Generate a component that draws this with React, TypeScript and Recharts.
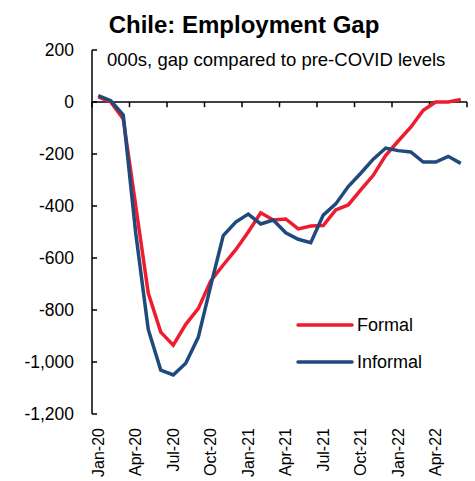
import { LineChart, Line, XAxis, YAxis, ReferenceLine } from 'recharts';

// ── Data ──────────────────────────────────────────────────────────────────────
const MONTHS = [
  'Jan-20', 'Feb-20', 'Mar-20', 'Apr-20', 'May-20', 'Jun-20',
  'Jul-20', 'Aug-20', 'Sep-20', 'Oct-20', 'Nov-20', 'Dec-20',
  'Jan-21', 'Feb-21', 'Mar-21', 'Apr-21', 'May-21', 'Jun-21',
  'Jul-21', 'Aug-21', 'Sep-21', 'Oct-21', 'Nov-21', 'Dec-21',
  'Jan-22', 'Feb-22', 'Mar-22', 'Apr-22', 'May-22', 'Jun-22',
];

// thousands of jobs vs pre-COVID
const FORMAL = [
  20, 0, -65, -400, -735, -885, -935, -855, -795, -688,
  -627, -568, -500, -426, -454, -450, -488, -477, -475, -415,
  -396, -338, -282, -205, -150, -97, -32, 0, 0, 10,
];
const INFORMAL = [
  25, 5, -50, -505, -875, -1031, -1050, -1005, -905, -706,
  -514, -462, -431, -469, -454, -503, -528, -541, -435, -392,
  -325, -274, -220, -177, -187, -192, -231, -231, -209, -236,
];

const Y_TICKS = [200, 0, -200, -400, -600, -800, -1000, -1200];

const RED = '#ED1C2E';
const BLUE = '#1F4A7C';
const FONT = '"Liberation Sans", Arial, sans-serif';

// categories sit between tick marks, so point i is drawn at i + 0.5
const data = MONTHS.map((month, i) => ({
  x: i + 0.5,
  month,
  formal: FORMAL[i],
  informal: INFORMAL[i],
}));

const labelTicks = MONTHS.map((_, i) => i + 0.5).filter((_, i) => i % 3 === 0);
const boundaryTicks = MONTHS.map((_, i) => i).filter((i) => i % 3 === 0).concat(MONTHS.length);

// ── Rotated month label ───────────────────────────────────────────────────────
function MonthTick({ x, y, payload }: any) {
  const label = MONTHS[Math.floor(payload.value)];
  return (
    <text
      x={x}
      y={y}
      transform={`rotate(-90 ${x} ${y})`}
      textAnchor="end"
      dominantBaseline="central"
      fontSize={16}
      fontFamily={FONT}
      fill="#000"
    >
      {label}
    </text>
  );
}

function LegendRow({ color, label, top }: { color: string; label: string; top: number }) {
  return (
    <div style={{ position: 'absolute', left: 296, top, display: 'flex', alignItems: 'center' }}>
      <svg width={58} height={8}>
        <line x1={2} y1={4} x2={56} y2={4} stroke={color} strokeWidth={3.5} strokeLinecap="round" />
      </svg>
      <span style={{ fontSize: 18, fontFamily: FONT, marginLeft: 3, lineHeight: 1 }}>{label}</span>
    </div>
  );
}

export default function App() {
  return (
    <div style={{ position: 'absolute', left: 0, top: 0, width: 475, height: 481, background: '#fff' }}>
      <LineChart width={475} height={481} data={data} margin={{ top: 50, right: 8, bottom: 0, left: 0 }}>
        <XAxis
          dataKey="x"
          type="number"
          domain={[0, 30]}
          ticks={labelTicks}
          interval={0}
          axisLine={false}
          tickLine={false}
          tickSize={0}
          tickMargin={14}
          height={67}
          tick={<MonthTick />}
        />
        <YAxis
          domain={[-1200, 200]}
          ticks={Y_TICKS}
          interval={0}
          width={92}
          tickLine={false}
          tickSize={0}
          tickMargin={18}
          axisLine={{ stroke: '#000', strokeWidth: 1.5 }}
          tick={{ fontSize: 17.5, fill: '#000', fontFamily: FONT }}
          tickFormatter={(v: number) => v.toLocaleString('en-US')}
        />

        {/* zero line acts as the category axis */}
        <ReferenceLine y={0} stroke="#000" strokeWidth={1.5} />
        {boundaryTicks.map((b) => (
          <ReferenceLine
            key={`xb${b}`}
            segment={[{ x: b, y: 0 }, { x: b, y: -20 }]}
            stroke="#000"
            strokeWidth={1.5}
          />
        ))}
        {/* inward tick marks on the value axis */}
        {Y_TICKS.map((v) => (
          <ReferenceLine
            key={`yt${v}`}
            segment={[{ x: 0, y: v }, { x: 0.4, y: v }]}
            stroke="#000"
            strokeWidth={1.5}
          />
        ))}

        <Line
          type="linear"
          dataKey="formal"
          name="Formal"
          stroke={RED}
          strokeWidth={3.5}
          dot={false}
          isAnimationActive={false}
        />
        <Line
          type="linear"
          dataKey="informal"
          name="Informal"
          stroke={BLUE}
          strokeWidth={3.5}
          dot={false}
          isAnimationActive={false}
        />
      </LineChart>

      {/* Title and subtitle */}
      <div
        style={{
          position: 'absolute',
          left: 0,
          top: 13,
          width: 488,
          textAlign: 'center',
          fontFamily: FONT,
          fontWeight: 700,
          fontSize: 24,
          lineHeight: 1,
        }}
      >
        Chile: Employment Gap
      </div>
      <div
        style={{
          position: 'absolute',
          left: 107,
          top: 51,
          fontFamily: FONT,
          fontSize: 18.5,
          lineHeight: 1,
          whiteSpace: 'nowrap',
        }}
      >
        000s, gap compared to pre-COVID levels
      </div>

      <LegendRow color={RED} label="Formal" top={316} />
      <LegendRow color={BLUE} label="Informal" top={353} />
    </div>
  );
}
